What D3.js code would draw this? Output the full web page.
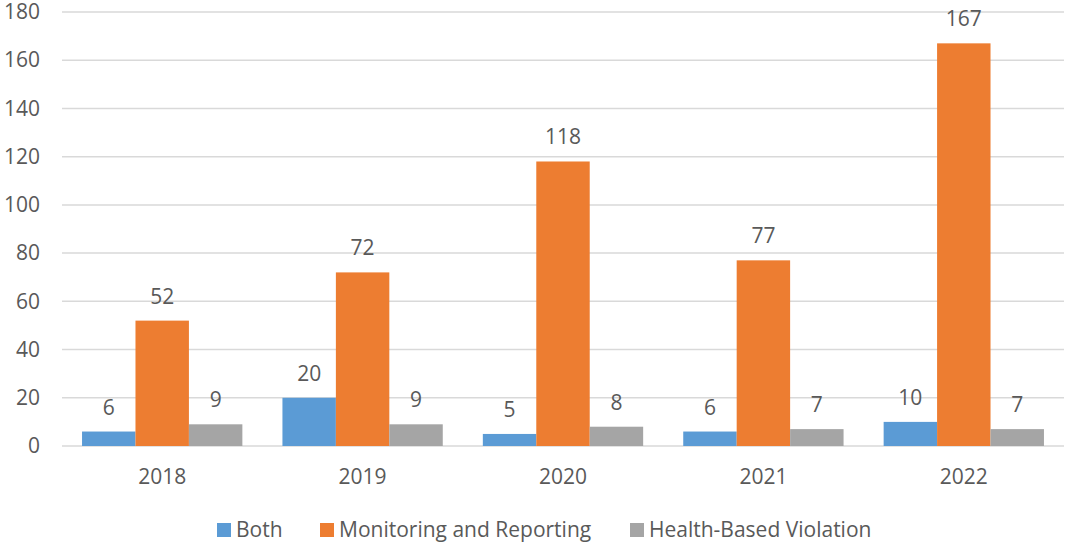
<!DOCTYPE html>
<html>
<head>
<meta charset="utf-8">
<script src="https://cdn.jsdelivr.net/npm/d3@7"></script>
<style>
  body { margin: 0; background: #fff; }
  svg text { font-family: "Open Sans", "Noto Sans", sans-serif; fill: #595959; }
</style>
</head>
<body>
<svg width="1066" height="542"></svg>
<script>
var years = ["2018", "2019", "2020", "2021", "2022"];
var seriesNames = ["Both", "Monitoring and Reporting", "Health-Based Violation"];
var both = [6, 20, 5, 6, 10];
var monitoring = [52, 72, 118, 77, 167];
var health = [9, 9, 8, 7, 7];
var yTicks = [0, 20, 40, 60, 80, 100, 120, 140, 160, 180];
var colors = ["#5B9BD5", "#ED7D31", "#A5A5A5"];

var svg = d3.select("svg"),
    margin = {top: 12, right: 2, bottom: 96, left: 62},
    width = +svg.attr("width") - margin.left - margin.right,
    height = +svg.attr("height") - margin.top - margin.bottom,
    g = svg.append("g").attr("transform", "translate(" + margin.left + "," + margin.top + ")");

var values = [both, monitoring, health];
var data = years.map(function(yr, i) {
  return {year: yr, vals: values.map(function(v, s) { return {key: s, value: v[i]}; })};
});

var x0 = d3.scaleBand().domain(years).range([0, width]).padding(0);
var x1 = d3.scaleBand().domain([0, 1, 2])
    .range([x0.bandwidth() * 0.1, x0.bandwidth() * 0.9]).padding(0);
var y = d3.scaleLinear().domain([0, 180]).range([height, 0]);

// gridlines
g.append("g")
  .selectAll("line")
  .data(yTicks)
  .enter().append("line")
    .attr("x1", 0)
    .attr("x2", width)
    .attr("y1", function(d) { return y(d); })
    .attr("y2", function(d) { return y(d); })
    .attr("stroke", "#d9d9d9")
    .attr("stroke-width", 1.5);

var yAxis = g.append("g")
    .call(d3.axisLeft(y).tickValues(yTicks).tickSize(0).tickPadding(22));
yAxis.select(".domain").remove();
yAxis.selectAll("text").style("font-size", "21px").attr("fill", "#595959");

var xAxis = g.append("g")
    .attr("transform", "translate(0," + height + ")")
    .call(d3.axisBottom(x0).tickSize(0).tickPadding(23));
xAxis.select(".domain").remove();
xAxis.selectAll("text").style("font-size", "21px").attr("fill", "#595959");

var groups = g.selectAll(".grp")
  .data(data)
  .enter().append("g")
    .attr("class", "grp")
    .attr("transform", function(d) { return "translate(" + x0(d.year) + ",0)"; });

groups.selectAll("rect")
  .data(function(d) { return d.vals; })
  .enter().append("rect")
    .attr("x", function(d) { return x1(d.key); })
    .attr("width", x1.bandwidth())
    .attr("y", function(d) { return y(d.value); })
    .attr("height", function(d) { return height - y(d.value); })
    .attr("fill", function(d) { return colors[d.key]; });

groups.selectAll(".lbl")
  .data(function(d) { return d.vals; })
  .enter().append("text")
    .attr("class", "lbl")
    .attr("x", function(d) { return x1(d.key) + x1.bandwidth() / 2; })
    .attr("y", function(d) { return y(d.value) - 17; })
    .attr("text-anchor", "middle")
    .style("font-size", "21px")
    .text(function(d) { return d.value; });

// legend
var legendX = [217, 320, 630];
var legend = svg.append("g").attr("transform", "translate(0,523)");
seriesNames.forEach(function(name, i) {
  legend.append("rect")
    .attr("x", legendX[i])
    .attr("y", 0)
    .attr("width", 14)
    .attr("height", 14)
    .attr("fill", colors[i]);
  legend.append("text")
    .attr("x", legendX[i] + 19)
    .attr("y", 14)
    .style("font-size", "21px")
    .text(name);
});
</script>
</body>
</html>
